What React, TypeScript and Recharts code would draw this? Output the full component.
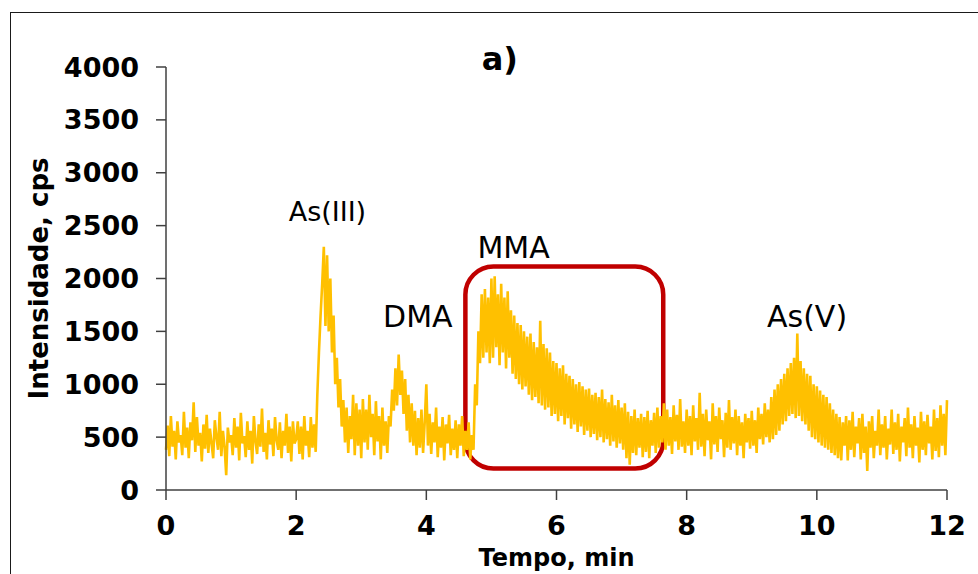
import { Label, Line, LineChart, ReferenceArea, ReferenceDot, XAxis, YAxis } from 'recharts';

const FONT = '"DejaVu Sans", "Liberation Sans", Arial, sans-serif';
const AXIS_COLOR = '#404040';
const SIGNAL_COLOR = '#FFC000';
const BOX_COLOR = '#C00000';

const SAMPLE_STEP_MIN = 0.025;

const MIN_00 = [380, 610, 320, 700, 410, 560, 290, 650, 450, 520, 330, 740, 400, 590, 300, 640, 470, 830, 360, 690, 420, 540, 270, 620, 390, 710, 350, 580, 440, 300, 660, 500, 380, 740, 320, 560, 410, 140, 590, 450];
const MIN_01 = [520, 330, 680, 400, 600, 280, 730, 440, 510, 310, 650, 380, 560, 250, 700, 460, 340, 620, 410, 770, 360, 540, 290, 660, 430, 580, 320, 690, 470, 380, 640, 300, 560, 420, 720, 350, 600, 270, 650, 440];
const MIN_02 = [480, 650, 340, 600, 290, 700, 420, 560, 310, 690, 400, 620, 360, 900, 1300, 1650, 1950, 2300, 1550, 2220, 1500, 2000, 1300, 1650, 1000, 1250, 780, 1050, 600, 850, 450, 780, 350, 700, 480, 900, 330, 820, 420, 760];
const MIN_03 = [300, 860, 450, 760, 380, 900, 500, 720, 330, 840, 460, 700, 290, 780, 420, 650, 350, 700, 600, 950, 750, 1150, 800, 1280, 900, 1130, 720, 1050, 560, 900, 450, 820, 420, 750, 330, 680, 400, 760, 350, 640];
const MIN_04 = [1000, 420, 720, 340, 640, 450, 780, 310, 600, 400, 690, 280, 620, 440, 710, 330, 580, 380, 660, 300, 620, 420, 700, 320, 560, 380, 640, 290, 520, 380, 1000, 800, 1500, 1200, 1850, 1250, 1900, 1300, 1820, 1200];
const MIN_05 = [2000, 1250, 2020, 1350, 1850, 1180, 1950, 1300, 1820, 1150, 1880, 1250, 1700, 1100, 1650, 1050, 1580, 1000, 1560, 950, 1500, 980, 1450, 900, 1480, 850, 1400, 880, 1350, 820, 1600, 800, 1380, 760, 1340, 780, 1300, 700, 1220, 720];
const MIN_06 = [1200, 650, 1150, 700, 1180, 620, 1100, 680, 1080, 580, 1050, 620, 1000, 550, 1020, 600, 980, 520, 950, 560, 960, 500, 900, 530, 920, 470, 880, 500, 950, 450, 860, 480, 830, 420, 900, 460, 800, 400, 850, 440];
const MIN_07 = [780, 380, 820, 300, 740, 240, 700, 350, 760, 330, 680, 400, 720, 310, 690, 360, 750, 300, 660, 420, 730, 350, 780, 400, 700, 450, 820, 380, 760, 420, 690, 340, 800, 460, 710, 380, 860, 410, 650, 350];
const MIN_08 = [760, 420, 700, 330, 800, 460, 680, 380, 920, 410, 720, 320, 760, 470, 650, 290, 820, 430, 700, 360, 780, 480, 660, 310, 730, 400, 850, 380, 690, 440, 760, 330, 700, 420, 640, 300, 720, 450, 680, 390];
const MIN_09 = [750, 420, 660, 350, 780, 480, 720, 430, 820, 500, 760, 450, 880, 480, 950, 520, 1000, 560, 1050, 620, 1100, 650, 1150, 700, 1200, 720, 1250, 680, 1480, 700, 1220, 650, 1150, 620, 1100, 560, 1080, 500, 1000, 480];
const MIN_10 = [980, 450, 940, 420, 900, 400, 880, 380, 820, 350, 760, 330, 720, 300, 690, 280, 640, 420, 700, 280, 660, 380, 740, 310, 600, 440, 680, 290, 720, 350, 600, 180, 650, 400, 700, 300, 560, 420, 760, 330];
const MIN_11 = [620, 400, 700, 290, 580, 430, 760, 340, 640, 380, 720, 270, 600, 450, 680, 320, 780, 400, 620, 300, 700, 420, 590, 260, 740, 380, 650, 330, 710, 440, 600, 290, 760, 370, 680, 310, 800, 420, 720, 330, 850];

const SIGNAL_CPS = [
  ...MIN_00, ...MIN_01, ...MIN_02, ...MIN_03, ...MIN_04, ...MIN_05,
  ...MIN_06, ...MIN_07, ...MIN_08, ...MIN_09, ...MIN_10, ...MIN_11,
];

const TIME_TICKS = [0, 2, 4, 6, 8, 10, 12];
const INTENSITY_TICKS = [0, 500, 1000, 1500, 2000, 2500, 3000, 3500, 4000];

const PEAK_NAMES = ['As(III)', 'DMA', 'MMA', 'As(V)'];
const PEAK_LABEL_TIME = [2.48, 3.87, 5.34, 9.85];
const PEAK_LABEL_CPS = [2638, 1645, 2298, 1645];

// highlighted MMA window
const MMA_BOX_TIME = [4.6, 7.64];
const MMA_BOX_CPS = [203, 2113];

const chartData = SIGNAL_CPS.map((cps, i) => ({ t: +(i * SAMPLE_STEP_MIN).toFixed(3), cps }));

const tickStyle = { fontSize: 27, fontWeight: 700, fill: '#000', fontFamily: FONT };

function YTitle(props: any) {
  const vb = props.viewBox;
  const cx = vb.x + 48;
  const cy = vb.y + vb.height / 2;
  return (
    <text
      x={cx}
      y={cy}
      transform={`rotate(-90 ${cx} ${cy})`}
      textAnchor="middle"
      fontSize={26}
      fontWeight={700}
      fontFamily={FONT}
      fill="#000"
    >
      Intensidade, cps
    </text>
  );
}

function XTitle(props: any) {
  const vb = props.viewBox;
  return (
    <text
      x={vb.x + vb.width / 2}
      y={vb.y + 76}
      textAnchor="middle"
      fontSize={24}
      fontWeight={700}
      fontFamily={FONT}
      fill="#000"
    >
      Tempo, min
    </text>
  );
}

export default function App() {
  return (
    <div style={{ position: 'relative', width: 978, height: 574, overflow: 'hidden', background: '#fff' }}>
      <style>{'body{margin:0}'}</style>
      <div
        style={{
          position: 'absolute',
          left: 10,
          top: 12,
          width: 1200,
          height: 800,
          border: '1.5px solid #1a1a1a',
        }}
      />
      <LineChart width={978} height={574} data={chartData} margin={{ top: 67, right: 31, bottom: 0, left: 0 }}>
        <XAxis
          type="number"
          dataKey="t"
          domain={[0, 12]}
          ticks={TIME_TICKS}
          interval={0}
          height={84}
          tickSize={10}
          tickMargin={16}
          tick={tickStyle}
          axisLine={{ stroke: AXIS_COLOR, strokeWidth: 1.5 }}
          tickLine={{ stroke: AXIS_COLOR, strokeWidth: 1.5 }}
        >
          <Label content={XTitle} />
        </XAxis>
        <YAxis
          type="number"
          domain={[0, 4000]}
          ticks={INTENSITY_TICKS}
          interval={0}
          width={166}
          tickSize={10}
          tickMargin={17}
          tick={tickStyle}
          axisLine={{ stroke: AXIS_COLOR, strokeWidth: 1.5 }}
          tickLine={{ stroke: AXIS_COLOR, strokeWidth: 1.5 }}
        >
          <Label content={YTitle} />
        </YAxis>
        <Line
          type="linear"
          dataKey="cps"
          stroke={SIGNAL_COLOR}
          strokeWidth={2.6}
          strokeLinejoin="miter"
          dot={false}
          activeDot={false}
          isAnimationActive={false}
        />
        <ReferenceArea
          x1={MMA_BOX_TIME[0]}
          x2={MMA_BOX_TIME[1]}
          y1={MMA_BOX_CPS[0]}
          y2={MMA_BOX_CPS[1]}
          shape={(p: any) => (
            <rect
              x={p.x}
              y={p.y}
              width={p.width}
              height={p.height}
              rx={28}
              ry={28}
              fill="none"
              stroke={BOX_COLOR}
              strokeWidth={4.5}
            />
          )}
        />
        {PEAK_NAMES.map((name, i) => (
          <ReferenceDot
            key={name}
            x={PEAK_LABEL_TIME[i]}
            y={PEAK_LABEL_CPS[i]}
            r={0}
            fill="none"
            stroke="none"
            ifOverflow="visible"
            label={{
              value: name,
              position: 'center',
              fontSize: i === 0 ? 27 : 30,
              fontFamily: FONT,
              fill: '#000',
            }}
          />
        ))}
        <ReferenceDot
          x={5.13}
          y={4079}
          r={0}
          fill="none"
          stroke="none"
          ifOverflow="visible"
          label={{ value: 'a)', position: 'center', fontSize: 32, fontWeight: 700, fontFamily: FONT, fill: '#000' }}
        />
      </LineChart>
    </div>
  );
}
